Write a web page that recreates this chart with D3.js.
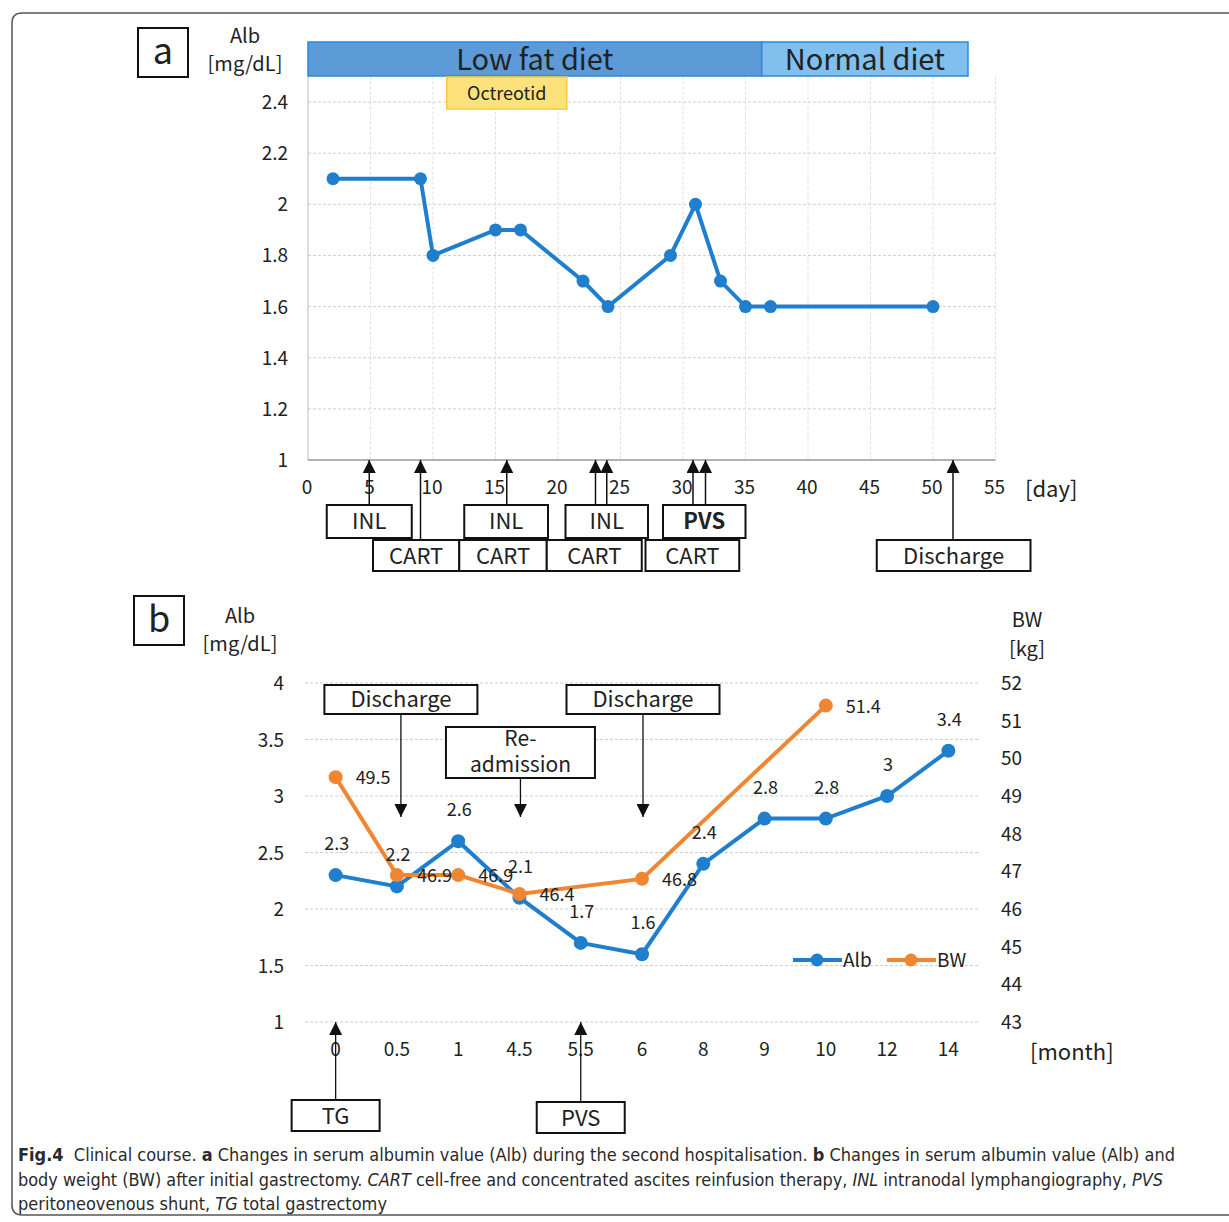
<!DOCTYPE html>
<html>
<head>
<meta charset="utf-8">
<script src="https://cdn.jsdelivr.net/npm/d3@7"></script>
<style>
  body { margin: 0; background: #fff; }
  svg { display: block; }
  text { font-family: "Noto Sans CJK JP", "Noto Sans", sans-serif; fill: #222; }
</style>
</head>
<body>
<svg id="fig" width="1229" height="1222"></svg>
<script>
// ---- panel a data ----
const daysA = [2, 9, 10, 15, 17, 22, 24, 29, 31, 33, 35, 37, 50];
const albA = [2.1, 2.1, 1.8, 1.9, 1.9, 1.7, 1.6, 1.8, 2.0, 1.7, 1.6, 1.6, 1.6];
const dayTicks = [0, 5, 10, 15, 20, 25, 30, 35, 40, 45, 50, 55];
const albTicksA = [1, 1.2, 1.4, 1.6, 1.8, 2, 2.2, 2.4];
const dietNames = ["Low fat diet", "Normal diet"];
const dietStart = [0, 36.3];
const dietEnd = [36.3, 52.8];
const octreotidDays = [11.1, 20.7];
// event arrows (day) and the box row they point to
const arrowDaysA = [4.9, 9, 15.9, 23, 23.9, 30.8, 31.8, 51.6];
const arrowRowA = [1, 2, 1, 1, 1, 1, 1, 2];
// event boxes: label, from day, to day, row
const boxLabelsA = ["INL", "INL", "INL", "PVS", "CART", "CART", "CART", "CART", "Discharge"];
const boxFromA = [1.5, 12.5, 20.6, 28.4, 5.2, 12.1, 19.1, 27.0, 45.5];
const boxToA = [8.3, 19.2, 27.2, 35.0, 12.1, 19.1, 26.7, 34.5, 57.8];
const boxRowA = [1, 1, 1, 1, 2, 2, 2, 2, 2];

// ---- panel b data ----
const months = ["0", "0.5", "1", "4.5", "5.5", "6", "8", "9", "10", "12", "14"];
const albB = [2.3, 2.2, 2.6, 2.1, 1.7, 1.6, 2.4, 2.8, 2.8, 3, 3.4];
const bwB = [49.5, 46.9, 46.9, 46.4, null, 46.8, null, null, 51.4, null, null];
const albTicksB = [1, 1.5, 2, 2.5, 3, 3.5, 4];
const bwTicks = [43, 44, 45, 46, 47, 48, 49, 50, 51, 52];
const downEvents = [["Discharge"], ["Re-", "admission"], ["Discharge"]];
const downMonths = ["0.5", "4.5", "6"];
const upEvents = ["TG", "PVS"];
const upMonths = ["0", "5.5"];

const blue = "#1f7fcc", orange = "#f08532";
const svg = d3.select("#fig");

// outer frame
svg.append("path")
  .attr("d", "M1240,13 L22,13 Q12,13 12,23 L12,1205 Q12,1215 22,1215 L1240,1215")
  .attr("fill", "none").attr("stroke", "#555").attr("stroke-width", 1.5);

svg.append("defs").append("marker")
  .attr("id", "head").attr("viewBox", "0 0 10 10")
  .attr("refX", 10).attr("refY", 5)
  .attr("markerWidth", 13).attr("markerHeight", 13)
  .attr("markerUnits", "userSpaceOnUse")
  .attr("orient", "auto")
  .append("path").attr("d", "M0,0 L10,5 L0,10 Z").attr("fill", "#111");

function panelLetter(x, y, t) {
  svg.append("rect").attr("x", x).attr("y", y).attr("width", 50).attr("height", 49)
    .attr("fill", "none").attr("stroke", "#111").attr("stroke-width", 2);
  svg.append("text").attr("x", x + 25).attr("y", y + 36).attr("text-anchor", "middle")
    .attr("font-size", 36).text(t);
}

// =================== panel a ===================
const xA = d3.scaleLinear().domain([0, 55]).range([308, 995.5]);
const yA = d3.scaleLinear().domain([1, 2.5]).range([460, 76.5]);

panelLetter(138, 28, "a");
svg.append("text").attr("x", 245).attr("y", 43).attr("text-anchor", "middle").attr("font-size", 20).text("Alb");
svg.append("text").attr("x", 245).attr("y", 71).attr("text-anchor", "middle").attr("font-size", 20).text("[mg/dL]");

const ga = svg.append("g");
ga.selectAll(".hg").data(albTicksA.slice(1)).join("line")
  .attr("x1", xA(0)).attr("x2", xA(55)).attr("y1", d => yA(d)).attr("y2", d => yA(d))
  .attr("stroke", "#cfcfcf").attr("stroke-dasharray", "3,2");
ga.selectAll(".vg").data(dayTicks.slice(1)).join("line")
  .attr("x1", d => xA(d)).attr("x2", d => xA(d)).attr("y1", yA(2.5)).attr("y2", yA(1))
  .attr("stroke", "#dedede").attr("stroke-dasharray", "3,2");
ga.append("line").attr("x1", xA(0)).attr("x2", xA(0)).attr("y1", yA(2.5)).attr("y2", yA(1)).attr("stroke", "#bbb");
ga.append("line").attr("x1", xA(0)).attr("x2", xA(55)).attr("y1", yA(1)).attr("y2", yA(1)).attr("stroke", "#999").attr("stroke-width", 1.5);

ga.selectAll(".yt").data(albTicksA).join("text")
  .attr("x", 288).attr("y", d => yA(d) + 7).attr("text-anchor", "end").attr("font-size", 19)
  .text(d => d);
ga.selectAll(".xt").data(dayTicks).join("text")
  .attr("x", d => xA(d) - 1).attr("y", 494).attr("text-anchor", "middle").attr("font-size", 19)
  .text(d => d);
svg.append("text").attr("x", 1025).attr("y", 497).attr("font-size", 22).text("[day]");

// diet bars
dietNames.forEach((n, i) => {
  svg.append("rect").attr("x", xA(dietStart[i])).attr("y", 42)
    .attr("width", xA(dietEnd[i]) - xA(dietStart[i])).attr("height", 34)
    .attr("fill", i === 0 ? "#5d9bd8" : "#80bfee").attr("stroke", "#2d8ad8").attr("stroke-width", 1.5);
  svg.append("text").attr("x", (xA(dietStart[i]) + xA(dietEnd[i])) / 2).attr("y", 70)
    .attr("text-anchor", "middle").attr("font-size", 29).attr("fill", "#1b2533").text(n);
});
svg.append("rect").attr("x", xA(octreotidDays[0])).attr("y", 77)
  .attr("width", xA(octreotidDays[1]) - xA(octreotidDays[0])).attr("height", 32)
  .attr("fill", "#fde27c").attr("stroke", "#f6c845").attr("stroke-width", 1.5);
svg.append("text").attr("x", (xA(octreotidDays[0]) + xA(octreotidDays[1])) / 2).attr("y", 100)
  .attr("text-anchor", "middle").attr("font-size", 18).text("Octreotid");

// Alb line
const lineA = d3.line().x(d => xA(d[0])).y(d => yA(d[1]));
const ptsA = daysA.map((d, i) => [d, albA[i]]);
ga.append("path").attr("d", lineA(ptsA)).attr("fill", "none").attr("stroke", blue).attr("stroke-width", 4);
ga.selectAll(".pa").data(ptsA).join("circle")
  .attr("cx", d => xA(d[0])).attr("cy", d => yA(d[1])).attr("r", 6.5).attr("fill", blue);

// event boxes
const rowTop = { 1: 505, 2: 540 };
const rowH = { 1: 33, 2: 31 };
boxLabelsA.forEach((t, i) => {
  const x0 = xA(boxFromA[i]), x1 = xA(boxToA[i]), y0 = rowTop[boxRowA[i]];
  svg.append("rect").attr("x", x0).attr("y", y0).attr("width", x1 - x0).attr("height", rowH[boxRowA[i]])
    .attr("fill", "#fff").attr("stroke", "#111").attr("stroke-width", 2);
  svg.append("text").attr("x", (x0 + x1) / 2).attr("y", y0 + 24).attr("text-anchor", "middle")
    .attr("font-size", 22).attr("font-weight", t === "PVS" ? "bold" : "normal").text(t);
});
arrowDaysA.forEach((d, i) => {
  svg.append("line").attr("x1", xA(d)).attr("x2", xA(d))
    .attr("y1", rowTop[arrowRowA[i]]).attr("y2", yA(1))
    .attr("stroke", "#111").attr("stroke-width", 1.5).attr("marker-end", "url(#head)");
});

// =================== panel b ===================
const xB = d3.scalePoint().domain(months).range([305, 979]).padding(0.5);
const yB = d3.scaleLinear().domain([1, 4]).range([1022, 683]);
const yW = d3.scaleLinear().domain([43, 52]).range([1022, 683]);

panelLetter(134, 596, "b");
svg.append("text").attr("x", 240).attr("y", 623).attr("text-anchor", "middle").attr("font-size", 20).text("Alb");
svg.append("text").attr("x", 240).attr("y", 651).attr("text-anchor", "middle").attr("font-size", 20).text("[mg/dL]");
svg.append("text").attr("x", 1027).attr("y", 627).attr("text-anchor", "middle").attr("font-size", 20).text("BW");
svg.append("text").attr("x", 1027).attr("y", 656).attr("text-anchor", "middle").attr("font-size", 20).text("[kg]");

const gb = svg.append("g");
gb.selectAll(".hg").data(albTicksB).join("line")
  .attr("x1", 305).attr("x2", 979).attr("y1", d => yB(d)).attr("y2", d => yB(d))
  .attr("stroke", "#cfcfcf").attr("stroke-dasharray", "3,2");
gb.selectAll(".yt").data(albTicksB).join("text")
  .attr("x", 284).attr("y", d => yB(d) + 7).attr("text-anchor", "end").attr("font-size", 19).text(d => d);
gb.selectAll(".wt").data(bwTicks).join("text")
  .attr("x", 1001).attr("y", d => yW(d) + 7).attr("font-size", 19).text(d => d);
gb.selectAll(".xt").data(months).join("text")
  .attr("x", d => xB(d)).attr("y", 1056).attr("text-anchor", "middle").attr("font-size", 19).text(d => d);
svg.append("text").attr("x", 1030).attr("y", 1060).attr("font-size", 22).text("[month]");

// down arrows with boxes
downEvents.forEach((lines, i) => {
  const cx = xB(downMonths[i]) + (i === 0 ? 4 : 1);
  const two = lines.length > 1;
  const w = i === 1 ? 149 : 153, y0 = two ? 727 : 685, h = two ? 51 : 29;
  svg.append("rect").attr("x", cx - w / 2).attr("y", y0).attr("width", w).attr("height", h)
    .attr("fill", "#fff").attr("stroke", "#111").attr("stroke-width", 2);
  lines.forEach((t, j) => {
    svg.append("text").attr("x", cx).attr("y", y0 + (two ? 19 : 22) + j * 26).attr("text-anchor", "middle")
      .attr("font-size", two ? 21 : 22).text(t);
  });
  svg.append("line").attr("x1", cx).attr("x2", cx).attr("y1", y0 + h).attr("y2", 817)
    .attr("stroke", "#111").attr("stroke-width", 1.3).attr("marker-end", "url(#head)");
});
// up arrows with boxes
upEvents.forEach((t, i) => {
  const cx = xB(upMonths[i]);
  const y0 = i === 0 ? 1100 : 1102;
  svg.append("rect").attr("x", cx - 44).attr("y", y0).attr("width", 88).attr("height", 31)
    .attr("fill", "#fff").attr("stroke", "#111").attr("stroke-width", 2);
  svg.append("text").attr("x", cx).attr("y", y0 + 24).attr("text-anchor", "middle")
    .attr("font-size", 22).text(t);
  svg.append("line").attr("x1", cx).attr("x2", cx).attr("y1", y0).attr("y2", yB(1))
    .attr("stroke", "#111").attr("stroke-width", 1.3).attr("marker-end", "url(#head)");
});

// series
const ptsAlb = months.map((m, i) => [m, albB[i]]);
const ptsBw = months.map((m, i) => [m, bwB[i]]).filter(d => d[1] !== null);
const lineAlb = d3.line().x(d => xB(d[0])).y(d => yB(d[1]));
const lineBw = d3.line().x(d => xB(d[0])).y(d => yW(d[1]));

gb.append("path").attr("d", lineAlb(ptsAlb)).attr("fill", "none").attr("stroke", blue).attr("stroke-width", 4);
gb.selectAll(".pb").data(ptsAlb).join("circle")
  .attr("cx", d => xB(d[0])).attr("cy", d => yB(d[1])).attr("r", 7).attr("fill", blue);
gb.append("path").attr("d", lineBw(ptsBw)).attr("fill", "none").attr("stroke", orange).attr("stroke-width", 4);
gb.selectAll(".pw").data(ptsBw).join("circle")
  .attr("cx", d => xB(d[0])).attr("cy", d => yW(d[1])).attr("r", 7).attr("fill", orange);

gb.selectAll(".la").data(ptsAlb).join("text")
  .attr("x", d => xB(d[0]) + 1).attr("y", d => yB(d[1]) - 25).attr("text-anchor", "middle")
  .attr("font-size", 18).text(d => d[1]);
gb.selectAll(".lw").data(ptsBw).join("text")
  .attr("x", d => xB(d[0]) + 20).attr("y", d => yW(d[1]) + 7)
  .attr("font-size", 18).text(d => d[1]);

// legend
[["Alb", blue, 793], ["BW", orange, 887]].forEach(([n, c, x]) => {
  svg.append("line").attr("x1", x).attr("x2", x + 49).attr("y1", 960).attr("y2", 960)
    .attr("stroke", c).attr("stroke-width", 4);
  svg.append("circle").attr("cx", x + 24).attr("cy", 960).attr("r", 6.5).attr("fill", c);
  svg.append("text").attr("x", x + 50).attr("y", 967).attr("font-size", 19).text(n);
});

// caption
const cap = svg.append("g").attr("font-size", 18);
const capFont = '"Liberation Sans Narrow", "DejaVu Sans Condensed", sans-serif';
const capLines = [
  [["Fig.4", "bold"], ["  Clinical course. ", ""], ["a", "bold"], [" Changes in serum albumin value (Alb) during the second hospitalisation. ", ""], ["b", "bold"], [" Changes in serum albumin value (Alb) and", ""]],
  [["body weight (BW) after initial gastrectomy. ", ""], ["CART", "italic"], [" cell-free and concentrated ascites reinfusion therapy, ", ""], ["INL", "italic"], [" intranodal lymphangiography, ", ""], ["PVS", "italic"]],
  [["peritoneovenous shunt, ", ""], ["TG", "italic"], [" total gastrectomy", ""]]
];
const capWidths = [1157, 1145, 369];
capLines.forEach((parts, i) => {
  const t = cap.append("text").attr("x", 18).attr("y", 1161 + i * 24.5)
    .attr("textLength", capWidths[i]).attr("lengthAdjust", "spacingAndGlyphs")
    .style("font-family", capFont).attr("xml:space", "preserve").style("white-space", "pre");
  parts.forEach(([s, st]) => {
    const sp = t.append("tspan").text(s).style("font-family", capFont).attr("fill", "#2a2a2a");
    if (st === "bold") sp.attr("font-weight", "bold");
    if (st === "italic") sp.attr("font-style", "italic");
  });
});
</script>
</body>
</html>
